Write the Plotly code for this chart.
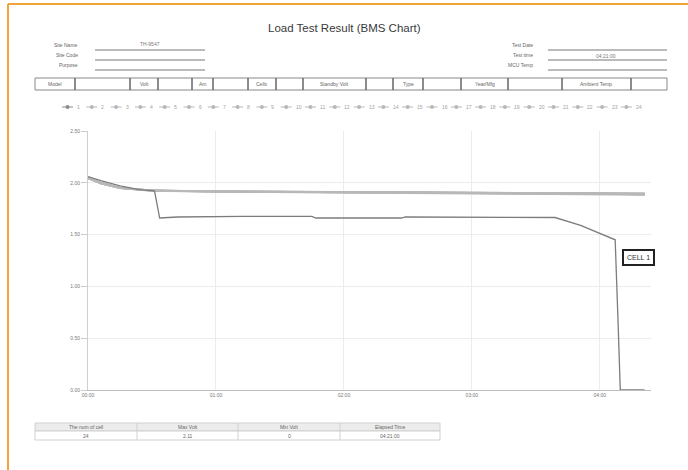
import plotly.graph_objects as go

W, H = 688, 470

def px(x):
    return x / W

def py(y):
    return 1 - y / H

# ---------------- data ----------------
cell_names = [str(i) for i in range(1, 25)]

cell1_time = [0, 0.1, 0.25, 0.4, 0.5, 0.52, 0.56, 0.7, 1.2, 1.75, 1.78, 2.45, 2.48, 3.0, 3.65, 3.85, 4.12, 4.14, 4.16, 4.35]
cell1_volt = [2.06, 2.02, 1.97, 1.935, 1.925, 1.92, 1.66, 1.67, 1.675, 1.675, 1.66, 1.66, 1.67, 1.67, 1.665, 1.59, 1.45, 0.75, 0.0, 0.0]

others_time = [0, 0.1, 0.25, 0.5, 1.0, 2.0, 3.0, 4.0, 4.35]
cell_02 = [2.05, 2.00, 1.955, 1.93, 1.92, 1.915, 1.91, 1.905, 1.90]
cell_03 = [2.04, 1.99, 1.950, 1.925, 1.915, 1.910, 1.905, 1.900, 1.895]
cell_04 = [2.05, 2.00, 1.950, 1.925, 1.918, 1.912, 1.906, 1.898, 1.892]
cell_05 = [2.04, 1.995, 1.948, 1.922, 1.914, 1.908, 1.902, 1.895, 1.888]
cell_06 = [2.05, 2.005, 1.955, 1.928, 1.920, 1.914, 1.908, 1.902, 1.897]
cell_07 = [2.045, 1.99, 1.945, 1.920, 1.912, 1.906, 1.900, 1.892, 1.885]
cell_08 = [2.05, 2.00, 1.952, 1.927, 1.918, 1.913, 1.907, 1.900, 1.894]
cell_09 = [2.04, 1.995, 1.950, 1.924, 1.916, 1.909, 1.903, 1.896, 1.890]
cell_10 = [2.05, 2.00, 1.953, 1.929, 1.921, 1.915, 1.909, 1.903, 1.898]
cell_11 = [2.045, 1.995, 1.947, 1.921, 1.913, 1.907, 1.900, 1.893, 1.886]
cell_12 = [2.05, 2.00, 1.951, 1.926, 1.917, 1.911, 1.905, 1.898, 1.892]
cell_13 = [2.04, 1.99, 1.946, 1.920, 1.911, 1.905, 1.898, 1.890, 1.883]
cell_14 = [2.05, 2.005, 1.956, 1.930, 1.922, 1.916, 1.911, 1.905, 1.900]
cell_15 = [2.045, 1.995, 1.949, 1.923, 1.915, 1.909, 1.902, 1.895, 1.889]
cell_16 = [2.05, 2.00, 1.952, 1.926, 1.918, 1.912, 1.906, 1.899, 1.893]
cell_17 = [2.04, 1.99, 1.944, 1.918, 1.910, 1.903, 1.896, 1.888, 1.880]
cell_18 = [2.05, 2.00, 1.954, 1.928, 1.919, 1.913, 1.908, 1.901, 1.896]
cell_19 = [2.045, 1.995, 1.948, 1.922, 1.914, 1.908, 1.901, 1.894, 1.887]
cell_20 = [2.05, 2.005, 1.955, 1.929, 1.921, 1.915, 1.910, 1.904, 1.899]
cell_21 = [2.04, 1.99, 1.947, 1.921, 1.912, 1.906, 1.899, 1.891, 1.884]
cell_22 = [2.05, 2.00, 1.951, 1.925, 1.917, 1.911, 1.904, 1.897, 1.891]
cell_23 = [2.045, 1.995, 1.949, 1.924, 1.916, 1.910, 1.904, 1.897, 1.891]
cell_24 = [2.05, 2.00, 1.953, 1.927, 1.919, 1.913, 1.907, 1.900, 1.895]
others = [cell_02, cell_03, cell_04, cell_05, cell_06, cell_07, cell_08, cell_09, cell_10,
          cell_11, cell_12, cell_13, cell_14, cell_15, cell_16, cell_17, cell_18, cell_19,
          cell_20, cell_21, cell_22, cell_23, cell_24]

x_tickvals = [0, 1, 2, 3, 4]
x_ticktext = ["00:00", "01:00", "02:00", "03:00", "04:00"]
y_tickvals = [0, 0.5, 1.0, 1.5, 2.0, 2.5]
y_ticktext = ["0.00", "0.50", "1.00", "1.50", "2.00", "2.50"]

info_fields = ["Model", "Volt", "Am", "Cells", "Standby Volt", "Type", "Year/Mfg", "Ambient Temp."]
left_labels = ["Site Name", "Site Code", "Purpose"]
left_values = ["TH-9547", "", ""]
right_labels = ["Test Date", "Test time", "MCU Temp"]
right_values = ["", "04:21:00", ""]

summary_header = ["The num of cell", "Max Volt", "Min Volt", "Elapsed Time"]
summary_values = ["24", "2.11", "0", "04:21:00"]

FONT = "Liberation Sans, Arial, sans-serif"

fig = go.Figure()

for name, vals in zip(cell_names[1:], others):
    fig.add_trace(go.Scatter(x=others_time, y=vals, mode="lines", name=name,
                             line=dict(color="#b8b8b8", width=1), showlegend=False,
                             hoverinfo="skip"))
fig.add_trace(go.Scatter(x=cell1_time, y=cell1_volt, mode="lines", name=cell_names[0],
                         line=dict(color="#7c7c7c", width=1.3), showlegend=False))

shapes = []
annotations = []

def hline(x0, x1, y, color="#777", width=1):
    shapes.append(dict(type="line", xref="paper", yref="paper", x0=px(x0), x1=px(x1),
                       y0=py(y), y1=py(y), line=dict(color=color, width=width)))

def vline(x, y0, y1, color="#777", width=1):
    shapes.append(dict(type="line", xref="paper", yref="paper", x0=px(x), x1=px(x),
                       y0=py(y0), y1=py(y1), line=dict(color=color, width=width)))

def text(t, x, y, size=5, color="#666", anchor="center"):
    annotations.append(dict(text=t, xref="paper", yref="paper", x=px(x), y=py(y), showarrow=False,
                            xanchor=anchor, yanchor="middle",
                            font=dict(size=size, color=color, family=FONT)))

# orange page frame
hline(8, 688, 4, color="#f2a33a", width=2)
vline(8, 4, 470, color="#f2a33a", width=2)

# title
text("Load Test Result (BMS Chart)", 344, 28, size=11.5, color="#3a3a3a")

# header fields
hdr_rows = [45, 55, 65]
for i, lab in enumerate(left_labels):
    text(lab, 80, hdr_rows[i], anchor="right")
    hline(95, 205, hdr_rows[i] + 5)
    if left_values[i]:
        text(left_values[i], 150, hdr_rows[i] - 1, color="#777")
for i, lab in enumerate(right_labels):
    text(lab, 535, hdr_rows[i], anchor="right")
    hline(548, 667, hdr_rows[i] + 5)
    if right_values[i]:
        text(right_values[i], 606, hdr_rows[i] + 1, color="#777")

# info box
box_top, box_bot = 78, 90
shapes.append(dict(type="rect", xref="paper", yref="paper", x0=px(35), x1=px(667),
                   y0=py(box_bot), y1=py(box_top), line=dict(color="#888", width=1)))
field_spans = [(35, 75), (130, 158), (192, 213), (248, 276), (303, 366), (393, 423), (461, 508), (562, 631)]
for lab, (a, b) in zip(info_fields, field_spans):
    for xv in (a, b):
        if xv != 35:
            vline(xv, box_bot, box_top, color="#666", width=1.5)
    text(lab, (a + b) / 2, (box_top + box_bot) / 2)

# legend row (drawn manually: one compact row of 24 entries)
leg_y = 107
leg_x0 = 62
leg_step = 24.3
for i, name in enumerate(cell_names):
    x0 = leg_x0 + i * leg_step
    col = "#8c8c8c" if i == 0 else "#b8b8b8"
    hline(x0, x0 + 11, leg_y, color=col, width=1)
    shapes.append(dict(type="circle", xref="paper", yref="paper", x0=px(x0 + 3.5), x1=px(x0 + 7.5),
                       y0=py(leg_y + 2), y1=py(leg_y - 2), fillcolor=col, line=dict(width=0)))
    text(name, x0 + 13, leg_y, color="#a0a0a0", anchor="left")

# CELL 1 label box
annotations.append(dict(text="CELL 1", x=4.3, y=1.28, xref="x", yref="y", showarrow=False,
                        font=dict(size=7, color="#333", family=FONT), bgcolor="white",
                        bordercolor="#222", borderwidth=2, borderpad=3))

# summary table (header row + value row)
col_edges = [35, 137, 238, 340, 440]
t_top, t_mid, t_bot = 423, 431, 440
shapes.append(dict(type="rect", xref="paper", yref="paper", x0=px(35), x1=px(440),
                   y0=py(t_mid), y1=py(t_top), fillcolor="#ececec", line=dict(color="#d0d0d0", width=1)))
shapes.append(dict(type="rect", xref="paper", yref="paper", x0=px(35), x1=px(440),
                   y0=py(t_bot), y1=py(t_mid), fillcolor="white", line=dict(color="#d0d0d0", width=1)))
for xe in col_edges[1:-1]:
    vline(xe, t_top, t_bot, color="#d0d0d0", width=1)
for j in range(4):
    cx = (col_edges[j] + col_edges[j + 1]) / 2
    text(summary_header[j], cx, (t_top + t_mid) / 2, color="#666")
    text(summary_values[j], cx, (t_mid + t_bot) / 2, color="#666")

fig.update_layout(
    width=W, height=H,
    margin=dict(l=0, r=0, t=0, b=0),
    paper_bgcolor="white", plot_bgcolor="white",
    font=dict(family=FONT),
    xaxis=dict(domain=[px(88), px(651)], range=[0, 4.4], tickvals=x_tickvals, ticktext=x_ticktext,
               showgrid=True, gridcolor="#ececec", gridwidth=1, showline=True, linecolor="#bdbdbd",
               zeroline=False, tickfont=dict(size=5, color="#777"), ticks="", automargin=False),
    yaxis=dict(domain=[py(390), py(131)], range=[0, 2.5], tickvals=y_tickvals, ticktext=y_ticktext,
               showgrid=True, gridcolor="#ececec", gridwidth=1, showline=True, linecolor="#cfcfcf",
               zeroline=False, tickfont=dict(size=5, color="#777"), ticks="outside", ticklen=6,
               tickcolor="#ccc", automargin=False),
    shapes=shapes, annotations=annotations, showlegend=False,
)

fig.write_html("out.html", config={"displayModeBar": False},
               post_script="document.body.style.margin='0';")
